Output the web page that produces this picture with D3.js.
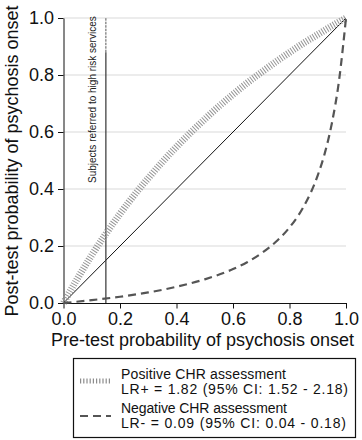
<!DOCTYPE html>
<html>
<head>
<meta charset="utf-8">
<script src="https://cdn.jsdelivr.net/npm/d3@7"></script>
<style>
  body { margin: 0; background: #fff; }
  svg { font-family: "Liberation Sans", Arial, sans-serif; }
</style>
</head>
<body>
<div id="chart"></div>
<script>
// Values
const ticks = [0, 0.2, 0.4, 0.6, 0.8, 1.0];
const prePos = [0, 0.05, 0.1, 0.15, 0.2, 0.25, 0.3, 0.35, 0.4, 0.45, 0.5, 0.55, 0.6, 0.65, 0.7, 0.75, 0.8, 0.85, 0.9, 0.95, 1];
const postPos = [0, 0.087, 0.168, 0.243, 0.313, 0.378, 0.438, 0.495, 0.548, 0.598, 0.645, 0.69, 0.732, 0.772, 0.809, 0.845, 0.879, 0.912, 0.942, 0.972, 1];
const preNeg = [0, 0.1, 0.2, 0.3, 0.4, 0.5, 0.6, 0.65, 0.7, 0.75, 0.8, 0.85, 0.9, 0.925, 0.95, 0.975, 1];
const postNeg = [0, 0.01, 0.022, 0.037, 0.057, 0.083, 0.119, 0.143, 0.174, 0.213, 0.265, 0.338, 0.448, 0.526, 0.631, 0.778, 1];
const referral = 0.15;
const legendLines = [
  ["Positive CHR assessment", "LR+ = 1.82 (95% CI: 1.52 - 2.18)"],
  ["Negative CHR assessment", "LR- = 0.09 (95% CI: 0.04 - 0.18)"]
];

const width = 362, height = 440;
const x = d3.scaleLinear().domain([0, 1]).range([63.5, 346]);
const y = d3.scaleLinear().domain([0, 1]).range([303, 18]);

const svg = d3.select("#chart").append("svg")
  .attr("width", width).attr("height", height);

svg.append("rect").attr("width", width).attr("height", height).attr("fill", "#fff");

// Gridlines
svg.append("g").selectAll("line")
  .data(ticks.slice(1))
  .enter().append("line")
  .attr("x1", x(0)).attr("x2", x(1))
  .attr("y1", d => y(d)).attr("y2", d => y(d))
  .attr("stroke", "#e6e6e6").attr("stroke-width", 1.5);

// Axes
const fmt = d3.format(".1f");
const xAxis = svg.append("g").attr("transform", `translate(0,${y(0)})`)
  .call(d3.axisBottom(x).tickValues(ticks).tickFormat(fmt).tickSize(5.5).tickSizeOuter(0).tickPadding(3.5));
const yAxis = svg.append("g").attr("transform", `translate(${x(0)},0)`)
  .call(d3.axisLeft(y).tickValues(ticks).tickFormat(fmt).tickSize(5.5).tickSizeOuter(0).tickPadding(4));
[xAxis, yAxis].forEach(a => {
  a.selectAll("text").attr("font-size", 18).attr("fill", "#111").attr("font-family", "Liberation Sans, Arial, sans-serif");
  a.selectAll("line, path").attr("stroke", "#111");
});

// Axis titles
svg.append("text")
  .attr("x", 202.5).attr("y", 346)
  .attr("text-anchor", "middle").attr("font-size", 18).attr("fill", "#111")
  .text("Pre-test probability of psychosis onset");
svg.append("text")
  .attr("transform", "translate(18,161) rotate(-90)")
  .attr("text-anchor", "middle").attr("font-size", 18).attr("fill", "#111")
  .text("Post-test probability of psychosis onset");

// Diagonal reference
svg.append("line")
  .attr("x1", x(0)).attr("y1", y(0)).attr("x2", x(1)).attr("y2", y(1))
  .attr("stroke", "#111").attr("stroke-width", 1);

// Referral line
svg.append("line")
  .attr("x1", x(referral)).attr("x2", x(referral))
  .attr("y1", y(0)).attr("y2", y(0.88))
  .attr("stroke", "#333").attr("stroke-width", 1.2);
svg.append("line")
  .attr("x1", x(referral)).attr("x2", x(referral))
  .attr("y1", y(0.88)).attr("y2", y(1))
  .attr("stroke", "#555").attr("stroke-width", 1).attr("stroke-dasharray", "2.5,1");
svg.append("text")
  .attr("transform", `translate(${x(referral) - 10},183) rotate(-90)`)
  .attr("font-size", 10).attr("fill", "#222")
  .text("Subjects referred to high risk services");

// Curves
const line = d3.line().x(d => x(d[0])).y(d => y(d[1])).curve(d3.curveMonotoneX);
svg.append("path")
  .datum(prePos.map((p, i) => [p, postPos[i]]))
  .attr("d", line)
  .attr("fill", "none").attr("stroke", "#959595")
  .attr("stroke-width", 7).attr("stroke-dasharray", "1,1.6");
svg.append("path")
  .datum(preNeg.map((p, i) => [p, postNeg[i]]))
  .attr("d", line)
  .attr("fill", "none").attr("stroke", "#555")
  .attr("stroke-width", 2.2).attr("stroke-dasharray", "8,5");

// Legend
const legend = svg.append("g");
legend.append("rect")
  .attr("x", 73.5).attr("y", 358.5).attr("width", 282).attr("height", 79)
  .attr("fill", "#fff").attr("stroke", "#111").attr("stroke-width", 1.2);
legend.append("line")
  .attr("x1", 80).attr("x2", 110).attr("y1", 381).attr("y2", 381)
  .attr("stroke", "#8c8c8c").attr("stroke-width", 5).attr("stroke-dasharray", "1.2,2");
legend.append("line")
  .attr("x1", 80).attr("x2", 111).attr("y1", 416).attr("y2", 416)
  .attr("stroke", "#555").attr("stroke-width", 1.8).attr("stroke-dasharray", "8,5");
const baselines = [[379, 393.5], [413, 427.5]];
const lineWidths = [[165, 227], [166, 225]];
legendLines.forEach((pair, i) => {
  pair.forEach((t, j) => {
    legend.append("text")
      .attr("x", 121).attr("y", baselines[i][j])
      .attr("font-size", 14).attr("fill", "#111")
      .attr("textLength", lineWidths[i][j]).attr("lengthAdjust", "spacing")
      .text(t);
  });
});
</script>
</body>
</html>
